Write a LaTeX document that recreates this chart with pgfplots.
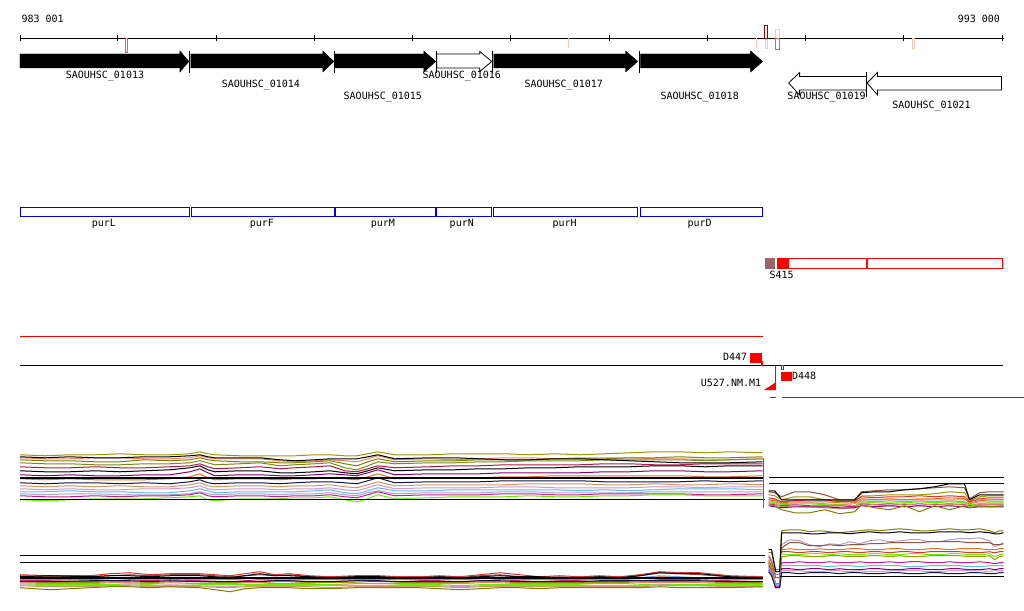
\documentclass[border=0pt]{standalone}
\usepackage{fontspec}
\usepackage{pgfplots}
\usepackage{pgfplotstable}
\pgfplotsset{compat=1.18}
\newfontfamily\mono{DejaVu Sans Mono}
\newcommand{\tf}{\mono\fontsize{10}{12}\selectfont}
\definecolor{cOlive}{RGB}{153,153,0}
\definecolor{cOlive2}{RGB}{128,128,0}
\definecolor{cOliveG}{RGB}{120,140,20}
\definecolor{cOrange}{RGB}{230,110,30}
\definecolor{cBrown}{RGB}{150,80,60}
\definecolor{cCrimson}{RGB}{180,20,70}
\definecolor{cPurple}{RGB}{140,0,110}
\definecolor{cNavy}{RGB}{20,20,80}
\definecolor{cSky}{RGB}{100,180,255}
\definecolor{cGreen}{RGB}{100,240,0}
\definecolor{cPink}{RGB}{210,150,200}
\definecolor{cSalmon}{RGB}{240,130,100}
\definecolor{cTan}{RGB}{210,150,100}
\definecolor{cRed}{RGB}{220,50,50}
\definecolor{cLav}{RGB}{170,160,200}
\definecolor{cMag}{RGB}{200,30,140}
\definecolor{cBrownS}{RGB}{155,102,102}
\definecolor{cLightPink}{RGB}{245,200,185}
\definecolor{cOrRed}{RGB}{232,96,64}
\definecolor{cDarkRed}{RGB}{150,0,0}
\definecolor{cBlue}{RGB}{0,0,230}
\definecolor{cPureRed}{RGB}{255,0,0}

% left top expression panel
\pgfplotstableread{
x a b c d e f g h i j k l m n o p
20 455 457 458 460 463 467 471 475 479 483 486 489 492 494 500 496
45 456 458 459 461 464 468 472 476 480 484 487 490 492 495 501 497
70 455 457 459 461 464 468 472 475 479 483 486 489 491 494 500 497
95 455 458 458 462 465 467 471 476 480 483 487 490 492 494 499 496
120 454 458 458 462 465 468 472 476 480 484 486 490 492 495 499 497
145 455 457 459 460 464 468 471 475 480 483 487 489 493 495 499 496
170 455 457 459 461 464 467 470 475 479 484 487 489 493 495 498 496
190 454 456 458 460 463 466 468 472 477 482 485 488 491 494 497 495
200 452 455 456 458 461 464 466 469 474 480 483 486 489 492 496 493
208 454 457 458 460 463 467 470 473 478 483 486 489 491 494 500 496
215 455 458 459 461 465 469 472 476 480 484 487 490 493 495 501 497
240 456 458 459 462 464 468 471 475 479 483 486 489 492 494 499 496
260 456 458 459 462 463 467 471 475 479 483 486 489 492 494 499 496
280 456 460 461 463 466 469 473 476 480 484 487 490 492 495 499 497
295 456 461 462 463 465 468 473 476 479 483 486 489 492 494 498 496
315 455 460 461 462 464 467 472 475 479 482 486 489 491 494 498 496
330 455 459 460 461 463 466 471 474 478 482 485 488 490 493 497 495
345 456 459 461 464 468 471 473 475 479 483 487 490 493 495 500 497
357 456 459 462 466 470 472 474 476 480 484 488 491 494 496 502 498
368 454 457 459 462 466 469 471 473 477 481 485 488 491 493 499 495
378 452 455 456 459 462 466 468 470 474 478 482 485 488 491 495 492
395 455 459 460 462 464 468 471 475 479 483 486 489 491 494 499 496
430 455 458 459 461 463 467 470 474 478 482 485 488 491 493 498 495
455 454 458 460 461 463 466 470 474 478 482 485 488 490 493 497 495
480 454 459 459 460 462 466 469 474 478 482 485 488 490 493 497 495
505 454 460 458 460 462 465 469 473 477 481 485 487 490 492 497 494
530 455 460 458 460 461 465 468 473 477 481 484 487 490 492 496 494
555 454 459 459 459 461 465 468 473 476 481 484 488 490 493 497 495
580 455 459 458 459 461 465 467 473 476 481 484 488 491 493 497 495
605 454 460 458 459 460 464 467 472 476 482 485 488 490 493 496 494
630 453 461 458 458 460 464 467 472 476 482 485 488 491 493 496 494
655 452 462 459 458 460 465 466 471 476 482 484 487 490 492 495 494
680 452 463 459 457 460 465 466 471 476 482 485 487 489 492 495 494
705 453 463 460 458 461 464 467 472 477 481 485 488 489 492 496 495
730 452 463 460 458 460 464 466 472 477 482 484 487 489 492 496 495
763 453 462 459 457 459 464 466 471 476 481 485 487 490 492 496 494
}\LT

% right top expression panel
\pgfplotstableread{
x a b c d e f g h i j k l
769 491 492 495 498 500 501 502 504 505 503 500 506
775 491 493 496 499 501 502 503 505 506 504 500 507
782 500 497 500 502 503 504 505 506 510 507 502 508
795 500 492 497 501 502 503 504 505 513 506 500 507
810 500 492 497 500 502 503 504 506 513 507 500 507
825 500 495 500 500 502 504 505 506 510 508 501 507
840 500 500 501 502 503 505 505 506 514 509 501 508
855 500 500 502 501 503 504 506 507 512 508 501 508
862 493 492 496 497 499 501 502 504 505 503 500 506
875 492 491 496 498 500 502 503 505 508 505 500 507
890 492 490 495 497 499 501 503 504 510 506 500 506
905 490 490 495 497 500 502 503 505 506 504 500 507
920 489 489 495 496 499 501 502 504 512 506 500 506
935 487 488 494 497 499 502 503 505 506 504 500 507
950 484 487 492 496 498 501 502 504 510 505 500 506
965 484 488 493 497 499 502 503 505 506 504 500 507
970 500 499 501 502 503 504 505 506 508 507 501 508
980 495 493 497 499 501 502 504 505 506 504 500 507
990 495 492 496 498 500 502 503 505 507 504 500 507
1004 495 492 496 498 500 502 503 505 506 504 500 507
}\RT

% left bottom expression panel
\pgfplotstableread{
x a c d e f g h i j k l m n
20 575 576 577 579 581 582 580 583 584 585 588 586 582
50 576 577 576 580 581 583 579 584 585 586 590 587 582
90 576 577 577 580 582 583 580 584 585 586 588 587 581
110 574 576 576 579 581 582 579 583 585 586 587 586 581
130 573 575 576 578 580 582 579 583 584 585 587 586 581
150 575 576 577 579 581 583 580 584 585 586 588 587 582
170 574 575 576 578 580 582 579 583 586 585 587 587 581
200 574 575 576 578 581 582 580 584 585 586 588 587 582
230 576 577 578 580 582 583 580 584 585 587 592 588 582
245 574 576 576 579 581 583 579 583 585 586 589 587 582
260 572 575 574 578 580 583 579 583 585 586 588 587 582
275 575 576 576 579 581 582 580 584 585 586 588 587 581
290 574 575 576 579 581 582 580 584 585 586 588 587 581
310 576 577 577 580 582 583 580 584 585 586 589 587 582
330 577 578 578 580 582 583 580 585 585 586 589 588 582
355 576 577 577 580 581 583 580 584 586 586 588 587 581
380 576 577 577 580 582 584 580 584 586 586 588 587 581
400 577 578 578 580 582 583 579 584 585 586 588 587 582
420 577 578 578 580 581 583 579 584 585 586 588 587 582
440 576 577 577 579 581 583 580 584 585 586 589 587 582
460 577 578 578 580 582 583 580 584 586 587 590 588 582
480 575 576 577 579 581 582 579 583 585 586 589 587 581
500 573 575 576 578 580 582 579 583 585 586 588 587 581
520 575 577 577 579 581 583 580 584 585 586 588 587 582
540 577 578 577 580 582 583 580 584 585 586 589 587 582
560 576 577 578 580 581 583 580 584 585 586 588 587 582
580 577 578 578 580 581 583 579 584 585 586 588 587 582
600 576 577 577 579 582 583 580 584 586 586 588 587 581
620 577 578 578 580 582 583 580 584 586 586 588 587 581
640 575 576 576 579 581 582 578 583 585 586 588 587 581
660 572 573 573 577 580 582 576 583 585 585 587 586 581
680 573 574 574 578 580 582 577 583 585 586 588 586 581
700 573 575 574 578 580 582 578 583 585 586 588 586 581
730 576 577 577 579 581 583 580 584 585 586 588 587 582
763 577 578 578 580 582 583 580 584 585 586 587 587 582
}\LB

% right bottom expression panel
\pgfplotstableread{
x a b c d e f g h i j k l m
769 553 550 555 557 560 562 563 564 566 568 570 572 571
772 553 550 560 562 566 568 569 570 572 573 575 576 575
776 570 572 575 578 585 586 586 584 587 585 588 588 586
780 570 572 575 578 584 586 585 584 587 585 588 588 586
782 531 533 545 548 550 552 554 557 563 566 569 573 571
790 530 533 540 543 549 552 555 556 563 566 569 573 571
800 530 533 541 543 550 553 555 556 562 566 570 574 571
810 532 534 545 546 550 552 554 557 563 566 569 573 572
820 531 534 547 546 549 552 554 557 563 566 569 573 572
830 532 533 544 545 550 553 555 556 562 567 570 573 571
840 533 533 545 546 550 552 554 556 563 566 569 574 571
850 532 534 542 545 549 552 555 557 563 566 570 573 572
860 531 533 544 545 549 553 555 557 562 567 570 573 571
870 530 532 541 544 550 552 554 556 563 566 569 574 572
880 531 533 540 544 550 552 554 556 563 566 569 574 572
890 530 533 542 543 549 553 555 557 562 566 570 573 571
900 529 532 541 543 549 552 555 556 563 566 570 573 571
910 530 533 540 543 550 552 554 557 562 567 569 574 571
920 531 533 540 543 550 553 554 557 562 567 569 574 571
930 531 533 542 542 549 552 555 556 563 566 570 573 572
940 530 532 542 542 549 552 555 556 563 566 570 573 572
950 529 532 540 542 550 552 554 556 562 566 569 574 571
960 530 532 539 542 549 552 554 556 563 566 569 574 571
970 530 533 539 543 549 553 555 557 563 567 570 573 571
980 529 532 538 543 549 553 555 557 562 567 570 573 571
990 531 533 541 543 550 552 554 556 563 566 569 574 572
995 533 534 547 545 550 553 557 560 564 566 570 574 571
1000 531 534 545 545 549 552 555 557 563 566 569 573 571
1004 531 533 543 544 549 552 554 556 563 566 569 573 571
}\RB

\newcommand{\pl}[3]{\addplot[color=#2, line width=1pt, line join=round] table[x=x,y=#1]{#3};}

\begin{document}
\begin{tikzpicture}
\begin{axis}[
  scale only axis, width=1024pt, height=611pt,
  xmin=0, xmax=1024, ymin=0, ymax=611, y dir=reverse,
  xtick=\empty, ytick=\empty, axis line style={draw=none},
  clip=false]

% ---------- ruler ----------
\addplot[black, line width=0.9pt] coordinates {(20,38) (1004,38)};
\addplot[black, line width=0.9pt] coordinates {(20,35.5) (20,41)};
\addplot[black, line width=0.9pt] coordinates {(118,35.5) (118,41)};
\addplot[black, line width=0.9pt] coordinates {(217,35.5) (217,41)};
\addplot[black, line width=0.9pt] coordinates {(315,35.5) (315,41)};
\addplot[black, line width=0.9pt] coordinates {(413,35.5) (413,41)};
\addplot[black, line width=0.9pt] coordinates {(511,35.5) (511,41)};
\addplot[black, line width=0.9pt] coordinates {(610,35.5) (610,41)};
\addplot[black, line width=0.9pt] coordinates {(708,35.5) (708,41)};
\addplot[black, line width=0.9pt] coordinates {(806,35.5) (806,41)};
\addplot[black, line width=0.9pt] coordinates {(904,35.5) (904,41)};
\addplot[black, line width=0.9pt] coordinates {(1003,35.5) (1003,41)};
\node[font=\tf, anchor=west] at (axis cs:18,19) {983 001};
\node[font=\tf, anchor=east] at (axis cs:1004,19) {993 000};
% small features on ruler
\addplot[cOrRed, line width=0.8pt] coordinates {(125.5,38) (127.5,38) (127.5,52) (125.5,52)} -- cycle;
\addplot[cLightPink, line width=1pt] coordinates {(569,38) (569,48)};
\addplot[cLightPink, line width=1pt] coordinates {(757,38) (757,48)};
\addplot[cLightPink, line width=0.8pt] coordinates {(766,38) (768,38) (768,48) (766,48)} -- cycle;
\addplot[cDarkRed, line width=0.8pt] coordinates {(765,25) (768,25) (768,38) (765,38)} -- cycle;
\addplot[cLightPink, line width=0.8pt] coordinates {(776,29) (780,29) (780,38) (776,38)} -- cycle;
\addplot[cOrRed, line width=0.8pt] coordinates {(776,38) (780,38) (780,49) (776,49)} -- cycle;
\addplot[cLightPink, line width=0.8pt] coordinates {(913,38) (915,38) (915,48) (913,48)} -- cycle;

% ---------- genes ----------
\addplot[fill=black, draw=black] coordinates {(20,54) (180,54) (180,51) (189,61.5) (180,72) (180,68) (20,68)} -- cycle;
\addplot[fill=black, draw=black] coordinates {(191,54) (323,54) (323,51) (334,61.5) (323,72) (323,68) (191,68)} -- cycle;
\addplot[fill=black, draw=black] coordinates {(335,54) (424,54) (424,51) (436,61.5) (424,72) (424,68) (335,68)} -- cycle;
\addplot[fill=white, draw=black, line width=0.8pt] coordinates {(437,54) (480,54) (480,51.5) (492,61.5) (480,71.5) (480,68) (437,68)} -- cycle;
\addplot[fill=black, draw=black] coordinates {(494,54) (626,54) (626,51) (638,61.5) (626,72) (626,68) (494,68)} -- cycle;
\addplot[fill=black, draw=black] coordinates {(641,54) (751,54) (751,51) (763,61.5) (751,72) (751,68) (641,68)} -- cycle;
\addplot[black, line width=0.9pt] coordinates {(190,51) (190,73)};
\addplot[black, line width=0.9pt] coordinates {(334.5,51) (334.5,73)};
\addplot[black, line width=0.9pt] coordinates {(436.5,51) (436.5,73)};
\addplot[black, line width=0.9pt] coordinates {(493,51) (493,73)};
\addplot[black, line width=0.9pt] coordinates {(640,51) (640,73)};
% reverse genes
\addplot[fill=white, draw=black, line width=0.8pt] coordinates {(789,83) (800,72.5) (800,76.5) (867,76.5) (867,90) (800,90) (800,95) } -- cycle;
\addplot[fill=white, draw=black, line width=0.8pt] coordinates {(867.5,83) (878,72.5) (878,76.5) (1002,76.5) (1002,90) (878,90) (878,95) } -- cycle;
\addplot[black, line width=0.9pt] coordinates {(867,72) (867,97)};
% gene labels
\node[font=\tf] at (axis cs:105,76) {SAOUHSC\_01013};
\node[font=\tf] at (axis cs:261,85) {SAOUHSC\_01014};
\node[font=\tf] at (axis cs:383,97) {SAOUHSC\_01015};
\node[font=\tf] at (axis cs:462,76) {SAOUHSC\_01016};
\node[font=\tf] at (axis cs:564,85) {SAOUHSC\_01017};
\node[font=\tf] at (axis cs:700,97) {SAOUHSC\_01018};
\node[font=\tf] at (axis cs:827,97) {SAOUHSC\_01019};
\node[font=\tf] at (axis cs:932,106) {SAOUHSC\_01021};

% ---------- operon genes (blue boxes) ----------
\addplot[cBlue, line width=0.9pt] coordinates {(20.5,208) (189.5,208) (189.5,217) (20.5,217)} -- cycle;
\addplot[cBlue, line width=0.9pt] coordinates {(191.5,208) (334.5,208) (334.5,217) (191.5,217)} -- cycle;
\addplot[cBlue, line width=0.9pt] coordinates {(335.5,208) (435.5,208) (435.5,217) (335.5,217)} -- cycle;
\addplot[cBlue, line width=0.9pt] coordinates {(436.5,208) (491.5,208) (491.5,217) (436.5,217)} -- cycle;
\addplot[cBlue, line width=0.9pt] coordinates {(493.5,208) (637.5,208) (637.5,217) (493.5,217)} -- cycle;
\addplot[cBlue, line width=0.9pt] coordinates {(640.5,208) (762.5,208) (762.5,217) (640.5,217)} -- cycle;
\node[font=\tf] at (axis cs:104,224) {purL};
\node[font=\tf] at (axis cs:262,224) {purF};
\node[font=\tf] at (axis cs:383,224) {purM};
\node[font=\tf] at (axis cs:462,224) {purN};
\node[font=\tf] at (axis cs:565,224) {purH};
\node[font=\tf] at (axis cs:700,224) {purD};

% ---------- S415 ----------
\addplot[fill=cBrownS, draw=cBrownS] coordinates {(765.5,258.5) (775,258.5) (775,268.5) (765.5,268.5)} -- cycle;
\addplot[cPureRed, line width=0.9pt] coordinates {(777.5,258.5) (866.5,258.5) (866.5,268.5) (777.5,268.5)} -- cycle;
\addplot[cPureRed, line width=0.9pt] coordinates {(867.5,258.5) (1002.5,258.5) (1002.5,268.5) (867.5,268.5)} -- cycle;
\addplot[fill=cPureRed, draw=cPureRed] coordinates {(777.5,258.5) (789,258.5) (789,268.5) (777.5,268.5)} -- cycle;
\node[font=\tf] at (axis cs:782,275) {S415};

% ---------- transcripts ----------
\addplot[cPureRed, line width=1.1pt] coordinates {(20,336.5) (763,336.5)};
\addplot[black, line width=0.9pt] coordinates {(20,366) (1003,366)};
\addplot[fill=cPureRed, draw=cPureRed] coordinates {(751,353) (762,353) (762,362) (751,362)} -- cycle;
\addplot[cPureRed, line width=0.7pt] coordinates {(762,362) (763,362) (763,366) (762,366)} -- cycle;
\node[font=\tf, anchor=east] at (axis cs:751,357.5) {D447};
\addplot[fill=cPureRed, draw=cPureRed] coordinates {(782,372) (792,372) (792,380) (782,380)} -- cycle;
\addplot[cPureRed, line width=0.7pt] coordinates {(782,366) (784,366) (784,370) (782,370)} -- cycle;
\node[font=\tf, anchor=west] at (axis cs:789,376) {D448};
\addplot[fill=cPureRed, draw=cPureRed] coordinates {(765,390) (776,383) (776,390)} -- cycle;
\addplot[cPureRed, line width=0.9pt] coordinates {(776,366) (776,390)};
\node[font=\tf, anchor=east] at (axis cs:765,383) {U527.NM.M1};
\addplot[cPureRed, line width=1pt] coordinates {(770,397.5) (776,397.5)};
\addplot[cPureRed, line width=1pt] coordinates {(782,397.5) (1024,397.5)};

% ---------- left top expression ----------
\pl{a}{cOlive}{\LT}
\pl{c}{cSalmon}{\LT}
\pl{d}{cOlive2}{\LT}
\pl{e}{cOliveG}{\LT}
\pl{f}{cCrimson}{\LT}
\pl{g}{black}{\LT}
\pl{h}{cPurple}{\LT}
\pl{i}{cOrange}{\LT}
\pl{j}{cNavy}{\LT}
\pl{k}{cTan}{\LT}
\pl{l}{cPink}{\LT}
\pl{m}{cSky}{\LT}
\pl{n}{cLav}{\LT}
\pl{p}{cMag}{\LT}
\pl{o}{cGreen}{\LT}
\pl{b}{black}{\LT}
\addplot[black, line width=1.6pt] coordinates {(20,478) (763,478)};
\addplot[black, line width=1pt] coordinates {(20,500) (765,500)};
\addplot[cRed, line width=1.2pt] coordinates {(764,458) (764,508)};

% ---------- right top expression ----------
\addplot[black, line width=1pt] coordinates {(769,478) (1004,478)};
\addplot[black, line width=1pt] coordinates {(769,484) (1004,484)};
\pl{k}{cSky}{\RT}
\pl{c}{cOlive}{\RT}
\pl{d}{cRed}{\RT}
\pl{e}{cOrange}{\RT}
\pl{f}{cSalmon}{\RT}
\pl{g}{cGreen}{\RT}
\pl{h}{cMag}{\RT}
\pl{j}{cTan}{\RT}
\pl{l}{cPurple}{\RT}
\pl{i}{cOlive2}{\RT}
\pl{b}{cBrown}{\RT}
\pl{a}{black}{\RT}

% ---------- left bottom expression ----------
\addplot[black, line width=1pt] coordinates {(20,555.5) (765,555.5)};
\addplot[black, line width=1pt] coordinates {(20,562.5) (765,562.5)};
\pl{h}{cSky}{\LB}
\pl{a}{cRed}{\LB}
\pl{c}{cBrown}{\LB}
\pl{d}{black}{\LB}
\pl{e}{cOrange}{\LB}
\pl{f}{cMag}{\LB}
\pl{g}{cOlive}{\LB}
\pl{n}{cNavy}{\LB}
\pl{i}{cSalmon}{\LB}
\pl{j}{cGreen}{\LB}
\pl{k}{cPink}{\LB}
\pl{m}{cTan}{\LB}
\pl{l}{cOlive2}{\LB}
\addplot[black, line width=1.6pt] coordinates {(20,578) (763,578)};

% ---------- right bottom expression ----------
\pl{c}{cLav}{\RB}
\pl{d}{cBrown}{\RB}
\pl{e}{cOrange}{\RB}
\pl{f}{cRed}{\RB}
\pl{g}{cGreen}{\RB}
\pl{h}{cOlive}{\RB}
\pl{i}{cMag}{\RB}
\pl{j}{cSky}{\RB}
\pl{k}{cPurple}{\RB}
\pl{m}{cPink}{\RB}
\pl{l}{cNavy}{\RB}
\pl{a}{cOlive2}{\RB}
\pl{b}{black}{\RB}
\addplot[black, line width=1pt] coordinates {(780,577) (1004,577)};
\end{axis}
\end{tikzpicture}
\end{document}
